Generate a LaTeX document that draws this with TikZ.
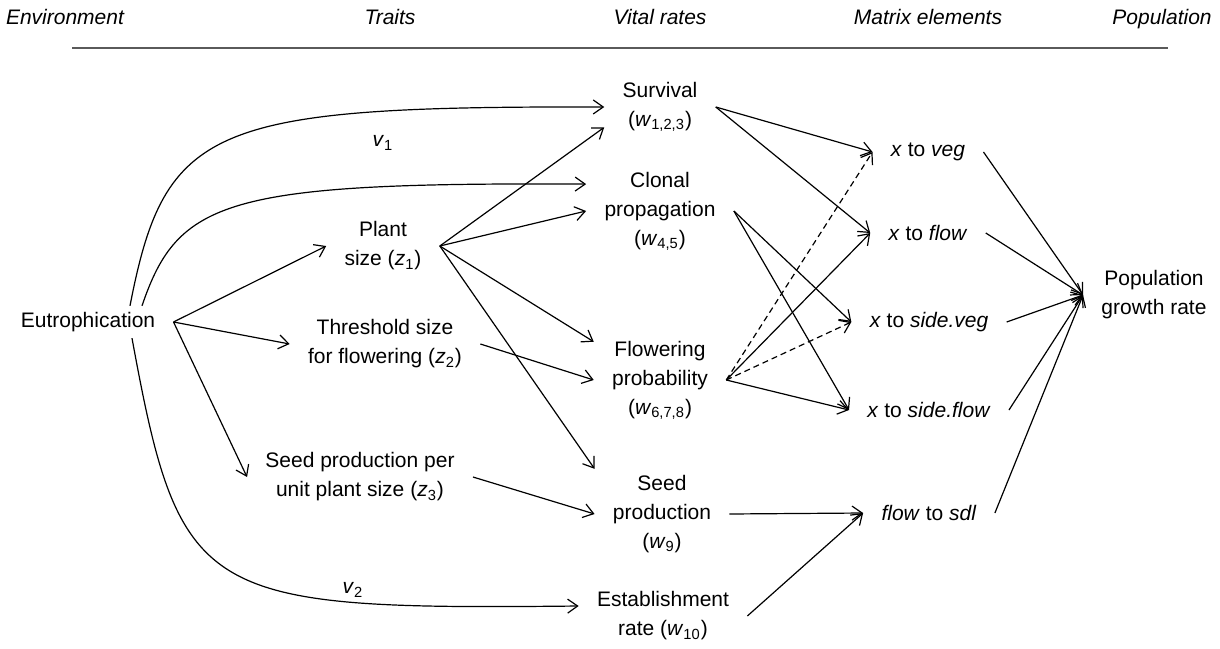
\documentclass[tikz,border=0pt]{standalone}
\usepackage{fontspec}
\setmainfont{Liberation Sans}
\usetikzlibrary{arrows.meta}
\definecolor{rulegray}{RGB}{90, 90, 90}
\newcommand{\subvar}[2]{\textit{#1}\textsubscript{#2}}

\tikzset{
  box/.style={align=center, inner xsep=9pt, inner ysep=3pt},
  head/.style={anchor=base, font=\fontsize{10.5}{14.5}\selectfont\itshape},
  arr/.style={-{Straight Barb[length=5pt,width=7pt]}, line width=0.6pt},
  dasharr/.style={arr, dash pattern=on 3pt off 2pt},
}

\begin{document}
\begin{tikzpicture}[x=0.5pt, y=-0.5pt, font=\fontsize{10.5}{14.5}\selectfont]
  \useasboundingbox (0,0) rectangle (1220,648);

  % Header
  \node[head] (henv) at (65,25) {Environment};
  \node[head] (htrait) at (390,25) {Traits};
  \node[head] (hvital) at (660,25) {Vital rates};
  \node[head] (hmatrix) at (928,25) {Matrix elements};
  \node[head] (hpop) at (1162,25) {Population};
  \draw[rulegray, line width=1pt] (72,48) -- (1168,48);

  % Environment and traits
  \node[box] (eut) at (88,322) {Eutrophication};
  \node[box] (plant) at (383,246) {Plant\\size (\subvar{z}{1})};
  \node[box] (thr) at (385,344) {Threshold size\\for flowering (\subvar{z}{2})};
  \node[box] (seedper) at (360,477) {Seed production per\\unit plant size (\subvar{z}{3})};

  % Vital rates
  \node[box] (surv) at (660,107) {Survival\\(\subvar{w}{1,2,3})};
  \node[box] (clon) at (660,211) {Clonal\\propagation\\(\subvar{w}{4,5})};
  \node[box] (flowp) at (660,380) {Flowering\\probability\\(\subvar{w}{6,7,8})};
  \node[box] (seedp) at (662,514) {Seed\\production\\(\subvar{w}{9})};
  \node[box] (estab) at (663,616) {Establishment\\rate (\subvar{w}{10})};

  % Matrix elements
  \node[box] (xveg) at (928,152) {\textit{x} to \textit{veg}};
  \node[box] (xflow) at (928,233) {\textit{x} to \textit{flow}};
  \node[box] (xsveg) at (929,322) {\textit{x} to \textit{side.veg}};
  \node[box] (xsflow) at (929,410) {\textit{x} to \textit{side.flow}};
  \node[box] (fsdl) at (929,513) {\textit{flow} to \textit{sdl}};

  % Population
  \node[box] (pop) at (1154,295) {Population\\growth rate};

  % Environment -> traits and vital rates
  \draw[arr] ([xshift=21pt]eut.north) .. controls (165,125) and (210,106) .. (surv.west);
  \draw[arr] ([xshift=27pt]eut.north) .. controls (178,200) and (225,182) .. (clon.160);
  \draw[arr] ([xshift=22pt]eut.south) .. controls (180,600) and (200,610) .. ([yshift=5pt]estab.west);
  \node (v1) at (383,143) {\subvar{v}{1}};
  \node (v2) at (353,590) {\subvar{v}{2}};
  \draw[arr] (eut.east) -- (plant.west);
  \draw[arr] (eut.east) -- (thr.west);
  \draw[arr] (eut.east) -- (seedper.west);

  % Traits -> vital rates
  \draw[arr] (plant.east) -- (surv.200);
  \draw[arr] (plant.east) -- (clon.west);
  \draw[arr] (plant.east) -- (flowp.150);
  \draw[arr] (plant.east) -- (seedp.north west);
  \draw[arr] (thr.east) -- (flowp.west);
  \draw[arr] (seedper.east) -- (seedp.west);

  % Vital rates -> matrix elements
  \draw[arr] (surv.east) -- (xveg.west);
  \draw[arr] (surv.east) -- (xflow.west);
  \draw[arr] (clon.east) -- (xsveg.west);
  \draw[arr] (clon.east) -- (xsflow.west);
  \draw[dasharr] (flowp.east) -- (xveg.west);
  \draw[arr] (flowp.east) -- (xflow.west);
  \draw[dasharr] (flowp.east) -- (xsveg.west);
  \draw[arr] (flowp.east) -- (xsflow.west);
  \draw[arr] (seedp.east) -- (fsdl.west);
  \draw[arr] (estab.east) -- (fsdl.west);

  % Matrix elements -> population
  \foreach \m in {xveg, xflow, xsveg, xsflow, fsdl}
    \draw[arr] (\m.east) -- (pop.west);
\end{tikzpicture}
\end{document}
